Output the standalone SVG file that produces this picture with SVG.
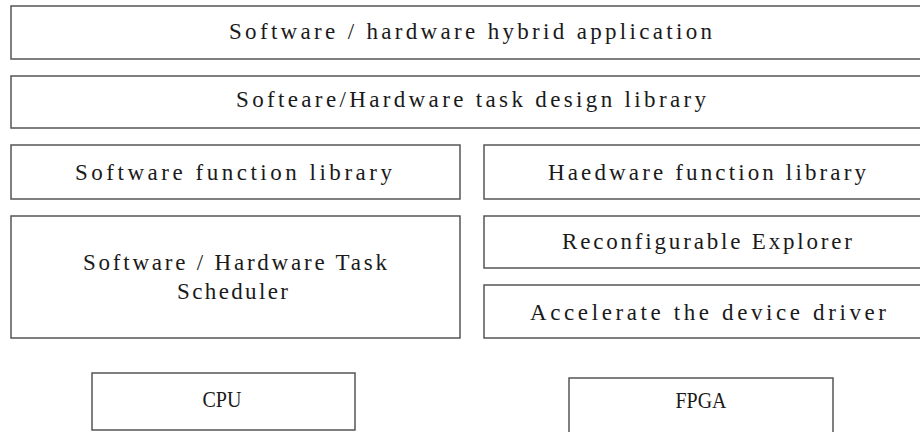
<svg xmlns="http://www.w3.org/2000/svg" width="920" height="432" viewBox="0 0 920 432">
<style>
rect.b{fill:#fff;stroke:#555;stroke-width:1.5}
text{font-family:"Liberation Serif","DejaVu Serif",serif;font-size:23px;fill:#1a1a1a}
text.c{font-size:24px;text-anchor:middle}
</style>
<rect width="920" height="432" fill="#fff"/>
<g id="app"><rect class="b" x="11" y="6" width="912" height="53"/><text x="229" y="39" textLength="483" lengthAdjust="spacing">Software / hardware hybrid application</text></g>
<g id="design"><rect class="b" x="11" y="76" width="912" height="52"/><text x="236" y="107" textLength="470" lengthAdjust="spacing">Softeare/Hardware task design library</text></g>
<g id="swlib"><rect class="b" x="11" y="145" width="449" height="54"/><text x="75" y="180" textLength="317" lengthAdjust="spacing">Software function library</text></g>
<g id="hwlib"><rect class="b" x="484" y="145" width="439" height="54"/><text x="548" y="180" textLength="318" lengthAdjust="spacing">Haedware function library</text></g>
<g id="sched"><rect class="b" x="11" y="216" width="449" height="122"/><text x="83" y="270" textLength="304" lengthAdjust="spacing">Software / Hardware Task</text><text x="177" y="299" textLength="111" lengthAdjust="spacing">Scheduler</text></g>
<g id="reconf"><rect class="b" x="484" y="216" width="439" height="52"/><text x="562" y="249" textLength="290" lengthAdjust="spacing">Reconfigurable Explorer</text></g>
<g id="driver"><rect class="b" x="484" y="285" width="439" height="53"/><text x="530" y="320" textLength="356" lengthAdjust="spacing">Accelerate the device driver</text></g>
<g id="cpu"><rect class="b" x="92" y="373" width="263" height="57"/><text class="c" x="222" y="407" textLength="39" lengthAdjust="spacingAndGlyphs">CPU</text></g>
<g id="fpga"><rect class="b" x="569" y="378" width="264" height="60"/><text class="c" x="701" y="408" textLength="51" lengthAdjust="spacingAndGlyphs">FPGA</text></g>
<g id="connectors"></g>
</svg>
